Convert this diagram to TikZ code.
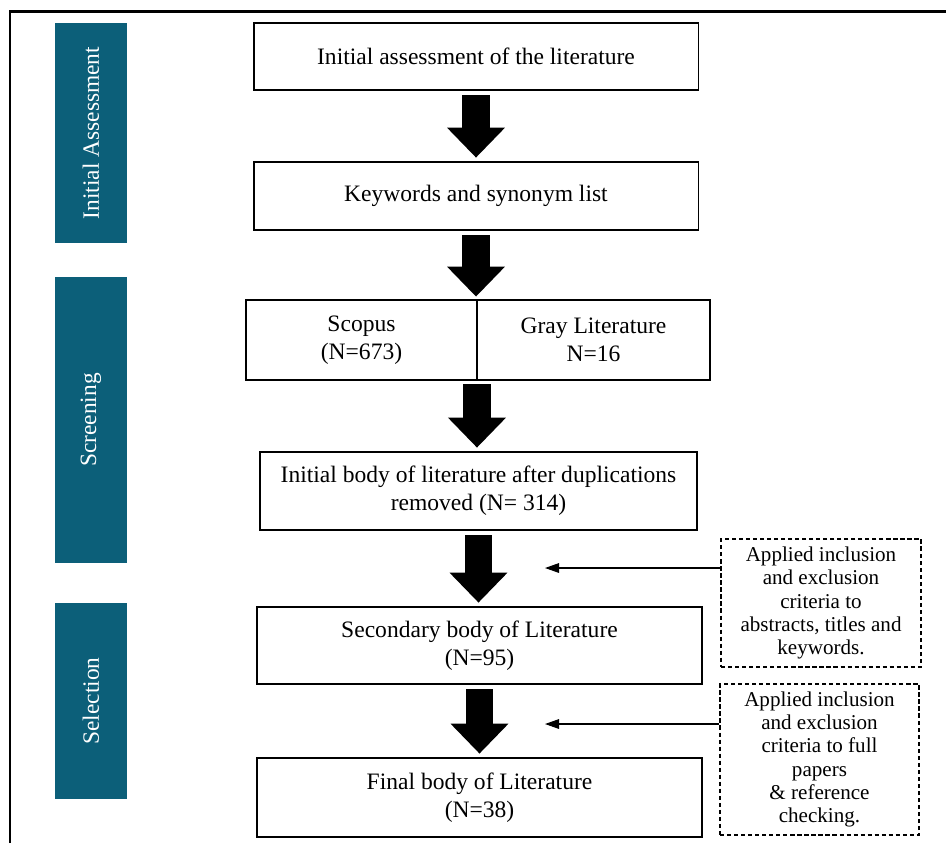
\documentclass[tikz,border=0pt]{standalone}
\usepackage{fontspec}
\setmainfont{Liberation Serif}
\usetikzlibrary{arrows.meta,positioning}
\definecolor{barteal}{RGB}{12,95,121}

\begin{document}
\begin{tikzpicture}[x=0.02cm,y=-0.02cm,
                      box/.style={draw=black,line width=1.1pt,fill=white,align=center,inner sep=2pt,font=\fontsize{13.4}{16}\selectfont},
                      critbox/.style={draw=black,line width=0.7pt,dash pattern=on 2.4pt off 1.6pt,align=center,inner sep=2pt,font=\fontsize{12}{13.2}\selectfont},
                      phase/.style={fill=barteal,text=white,rotate=90,minimum height=1.44cm,inner sep=0pt,font=\fontsize{13.3}{16}\selectfont},
                      bigarrow/.style={line width=15.8pt,-{Triangle[length=17pt,width=33pt,line width=0pt]},shorten <=2.5pt,shorten >=2pt},
                      thinarrow/.style={line width=0.6pt,-{Triangle[length=8pt,width=5.5pt]}}]
                      \useasboundingbox (0,0) rectangle (946,843);
                      \fill[white] (0,0) rectangle (946,843);
                      \draw[line width=1.7pt] (10,843) -- (10,11) -- (946,11);

                      \node[phase,minimum width=4.4cm] (ph1) at (91,133) {Initial Assessment};
                      \node[phase,minimum width=5.72cm] (ph2) at (91,420) {Screening};
                      \node[phase,minimum width=3.92cm] (ph3) at (91,701) {Selection};

                      \node[box,minimum width=8.9cm,minimum height=1.34cm] (init) at (476,56.5) {Initial assessment of the literature};
                      \node[box,minimum width=8.9cm,minimum height=1.36cm] (keys) at (476,196) {Keywords and synonym list};
                      \node[box,outer sep=0pt,minimum width=4.62cm,minimum height=1.6cm] (scopus) at (361.5,340) {Scopus\\(N=673)};
                      \node[box,outer sep=0pt,minimum width=4.66cm,minimum height=1.6cm,right=0pt of scopus] (gray) {Gray Literature\\N=16};
                      \node[box,minimum width=8.74cm,minimum height=1.56cm] (body1) at (478.5,491) {Initial body of literature after duplications\\removed (N= 314)};
                      \node[box,minimum width=8.9cm,minimum height=1.54cm] (body2) at (479.5,645.5) {Secondary body of Literature\\(N=95)};
                      \node[box,minimum width=8.9cm,minimum height=1.58cm] (body3) at (479.5,797.5) {Final body of Literature\\(N=38)};

                      \node[critbox,minimum width=4cm,minimum height=2.56cm] (crit1) at (821,603) {Applied inclusion\\and exclusion\\criteria to\\abstracts, titles and\\keywords.};
                      \node[critbox,minimum width=3.98cm,minimum height=3.02cm] (crit2) at (819.5,759.5) {Applied inclusion\\and exclusion\\criteria to full\\papers\\\& reference\\checking.};

                      \draw[bigarrow] (init.south) -- (init.south |- keys.north);
                      \draw[bigarrow] (keys.south) -- (keys.south |- scopus.north);
                      \draw[bigarrow] (scopus.south east) -- (scopus.south east |- body1.north);
                      \draw[bigarrow] (body1.south) -- (body1.south |- body2.north);
                      \draw[bigarrow] (body2.south) -- (body2.south |- body3.north);

                      \coordinate (t1) at (545,568);
                      \coordinate (t2) at (545,724);
                      \draw[thinarrow] (crit1.west |- t1) -- (t1);
                      \draw[thinarrow] (crit2.west |- t2) -- (t2);
                \end{tikzpicture}
\end{document}
